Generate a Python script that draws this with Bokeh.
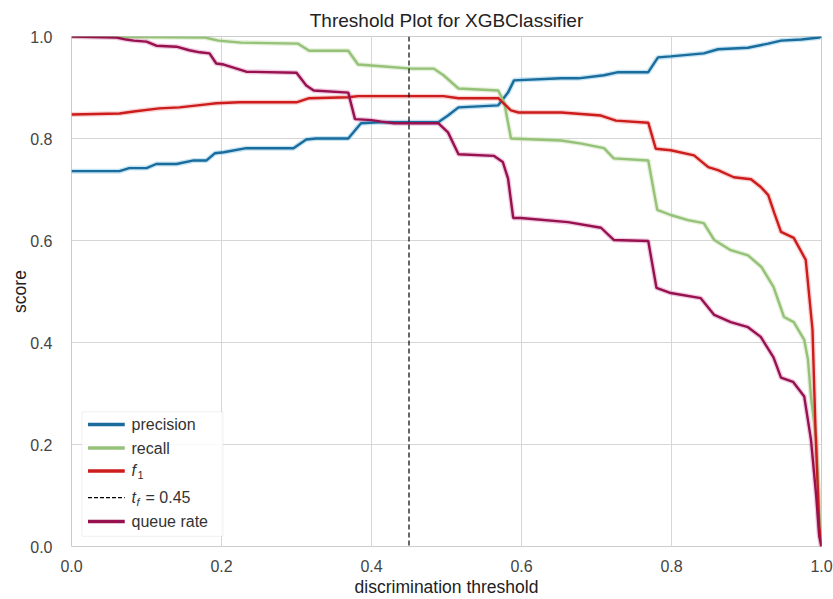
from bokeh.plotting import figure
from bokeh.models import Span, BoxAnnotation, Label, Arrow, Range1d, FixedTicker, PrintfTickFormatter
from bokeh.embed import file_html
from bokeh.resources import INLINE

# discrimination thresholds and median scores for each metric
precision_t = [0.0, 0.064, 0.077, 0.100, 0.113, 0.140, 0.163, 0.180, 0.191, 0.203,
               0.233, 0.296, 0.313, 0.326, 0.369, 0.386, 0.409, 0.489, 0.502, 0.516,
               0.569, 0.582, 0.590, 0.653, 0.676, 0.710, 0.729, 0.769, 0.782, 0.799,
               0.843, 0.862, 0.902, 0.929, 0.946, 0.973, 0.997, 1.0]
precision = [0.736, 0.736, 0.742, 0.742, 0.750, 0.750, 0.757, 0.757, 0.771, 0.773,
             0.781, 0.781, 0.798, 0.800, 0.800, 0.830, 0.832, 0.832, 0.845, 0.861,
             0.865, 0.890, 0.914, 0.918, 0.918, 0.924, 0.930, 0.930, 0.959, 0.961,
             0.967, 0.975, 0.978, 0.986, 0.992, 0.994, 0.998, 1.0]

recall_t = [0.0, 0.178, 0.196, 0.226, 0.302, 0.317, 0.369, 0.382, 0.400, 0.453,
            0.483, 0.496, 0.516, 0.569, 0.577, 0.586, 0.653, 0.680, 0.710, 0.723,
            0.769, 0.781, 0.799, 0.822, 0.843, 0.857, 0.879, 0.902, 0.920, 0.936,
            0.950, 0.963, 0.977, 0.982, 0.986, 0.993, 0.997, 1.0]
recall = [1.0, 0.998, 0.992, 0.988, 0.986, 0.972, 0.972, 0.945, 0.943, 0.937,
          0.937, 0.924, 0.898, 0.894, 0.870, 0.800, 0.796, 0.790, 0.781, 0.761,
          0.757, 0.660, 0.650, 0.640, 0.634, 0.601, 0.581, 0.571, 0.548, 0.509,
          0.450, 0.440, 0.405, 0.366, 0.293, 0.209, 0.060, 0.0]

f1_t = [0.0, 0.064, 0.083, 0.117, 0.144, 0.180, 0.193, 0.224, 0.300, 0.317,
        0.369, 0.382, 0.496, 0.516, 0.569, 0.586, 0.596, 0.653, 0.706, 0.726,
        0.769, 0.779, 0.799, 0.830, 0.849, 0.862, 0.883, 0.906, 0.919, 0.929,
        0.937, 0.946, 0.963, 0.979, 0.988, 0.992, 0.997, 1.0]
f1 = [0.847, 0.849, 0.853, 0.859, 0.861, 0.867, 0.869, 0.871, 0.871, 0.879,
      0.881, 0.883, 0.883, 0.879, 0.879, 0.855, 0.851, 0.851, 0.845, 0.835,
      0.831, 0.780, 0.777, 0.767, 0.744, 0.738, 0.724, 0.720, 0.705, 0.689,
      0.654, 0.617, 0.605, 0.562, 0.425, 0.228, 0.040, 0.0]

queue_t = [0.0, 0.060, 0.073, 0.083, 0.100, 0.113, 0.140, 0.157, 0.171, 0.184,
           0.193, 0.203, 0.233, 0.300, 0.313, 0.323, 0.369, 0.378, 0.400, 0.413,
           0.430, 0.489, 0.502, 0.516, 0.563, 0.575, 0.582, 0.589, 0.599, 0.662,
           0.706, 0.723, 0.769, 0.780, 0.799, 0.839, 0.857, 0.879, 0.902, 0.919,
           0.936, 0.946, 0.962, 0.977, 0.986, 0.993, 0.997, 1.0]
queue_rate = [1.0, 0.998, 0.994, 0.992, 0.990, 0.982, 0.980, 0.973, 0.969, 0.967,
              0.947, 0.945, 0.931, 0.929, 0.904, 0.894, 0.890, 0.838, 0.836, 0.833,
              0.830, 0.830, 0.812, 0.769, 0.766, 0.754, 0.722, 0.644, 0.644, 0.636,
              0.625, 0.601, 0.599, 0.507, 0.497, 0.487, 0.454, 0.440, 0.430, 0.411,
              0.371, 0.331, 0.323, 0.294, 0.209, 0.098, 0.020, 0.0]

threshold = 0.45
ticks = [0.0, 0.2, 0.4, 0.6, 0.8, 1.0]

FONT = "Liberation Sans"

series = [
    (precision_t, precision, "#1a6c9c", "#6cb8e0"),
    (recall_t, recall, "#95c178", "#bddca6"),
    (f1_t, f1, "#cc1c1c", "#f08a8a"),
    (queue_t, queue_rate, "#96114e", "#d77ab4"),
]

p = figure(width=833, height=599, output_backend="svg", toolbar_location=None,
           x_range=Range1d(0, 1), y_range=Range1d(0, 1),
           min_border_left=71, min_border_right=12, min_border_top=36, min_border_bottom=52,
           title="Threshold Plot for XGBClassifier")

p.title.align = "center"
p.title.text_font = FONT
p.title.text_font_size = "19px"
p.title.text_font_style = "normal"
p.title.text_color = "#222222"
p.title.offset = 0
p.title.standoff = 11

p.outline_line_color = "#cccccc"
p.background_fill_color = "white"
p.border_fill_color = "white"

for ax in (p.xaxis, p.yaxis):
    ax.ticker = FixedTicker(ticks=ticks)
    ax.formatter = PrintfTickFormatter(format="%.1f")
    ax.axis_line_color = None
    ax.major_tick_line_color = None
    ax.minor_tick_line_color = None
    ax.major_label_text_font = FONT
    ax.major_label_text_font_size = "16px"
    ax.major_label_text_color = "#444444"
    ax.axis_label_text_font = FONT
    ax.axis_label_text_font_size = "17.5px"
    ax.axis_label_text_font_style = "normal"
    ax.axis_label_text_color = "#222222"

p.xaxis.axis_label = "discrimination threshold"
p.yaxis.axis_label = "score"
p.xaxis.major_label_standoff = 7
p.yaxis.major_label_standoff = 13
p.xaxis.axis_label_standoff = 2
p.yaxis.axis_label_standoff = -3

p.grid.grid_line_color = "#d6d6d6"
p.grid.grid_line_width = 1
p.xgrid.ticker = FixedTicker(ticks=ticks)
p.ygrid.ticker = FixedTicker(ticks=ticks)

# uncertainty band drawn as a wide translucent stroke, median line on top
for xs, ys, dark, light in series:
    p.line(xs, ys, line_color=light, line_width=5, line_alpha=0.4)
for xs, ys, dark, light in series:
    p.line(xs, ys, line_color=dark, line_width=2.4)

p.add_layout(Span(location=threshold, dimension="height", line_color="black",
                  line_width=1.2, line_dash="5 3"))

# legend
p.add_layout(BoxAnnotation(left=0.014, right=0.202, bottom=0.02, top=0.264,
                           fill_color="white", fill_alpha=0.85,
                           line_color="#cccccc", line_width=1))

rows = [0.239, 0.193, 0.148, 0.096, 0.049]
sample_colors = ["#1a6c9c", "#95c178", "#cc1c1c", "black", "#96114e"]
for i, (yy, c) in enumerate(zip(rows, sample_colors)):
    if i == 3:
        p.add_layout(Arrow(end=None, x_start=0.022, y_start=yy, x_end=0.071, y_end=yy,
                           line_color=c, line_width=1.2, line_dash="4 2"))
    else:
        p.add_layout(Arrow(end=None, x_start=0.022, y_start=yy, x_end=0.071, y_end=yy,
                           line_color=c, line_width=3.5))

tx = 0.080
def legend_text(text, y, style="normal", size="16px", x_offset=0, y_offset=0):
    p.add_layout(Label(x=tx, y=y, text=text, x_offset=x_offset, y_offset=y_offset,
                       text_font=FONT, text_font_size=size, text_font_style=style,
                       text_color="#333333", text_baseline="middle", text_align="left"))

legend_text("precision", rows[0])
legend_text("recall", rows[1])
legend_text("f", rows[2], style="italic", y_offset=1)
legend_text("1", rows[2], size="11px", x_offset=6, y_offset=-4)
legend_text("t", rows[3], style="italic")
legend_text("f", rows[3], style="italic", size="11px", x_offset=5, y_offset=-4)
legend_text("= 0.45", rows[3], x_offset=14)
legend_text("queue rate", rows[4])

open("out.html", "w").write(file_html(p, INLINE))
